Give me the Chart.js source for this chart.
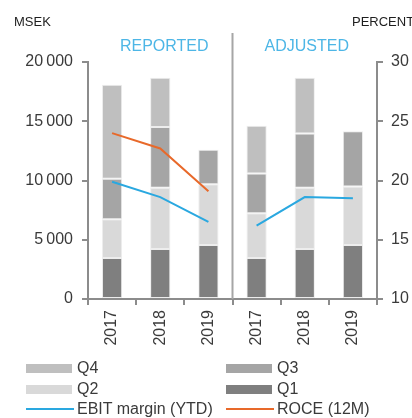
<!DOCTYPE html>
<html>
<head>
<meta charset="utf-8">
<script src="https://cdn.jsdelivr.net/npm/chart.js@4/dist/chart.umd.min.js"></script>
<style>
  html, body { margin: 0; padding: 0; background: #fff; }
  #wrap { position: relative; width: 412px; height: 418px; font-family: "Liberation Sans", Arial, sans-serif; }
  canvas { position: absolute; left: 0; top: 0; }
  .lg { position: absolute; font-size: 16px; color: #3a3a3a; line-height: 18px; white-space: nowrap; }
  .sw { position: absolute; }
</style>
</head>
<body>
<div id="wrap">
  <canvas id="c" width="412" height="418"></canvas>
  <div id="legend"></div>
</div>
<script>
const categories = ['2017', '2018', '2019', '2017', '2018', '2019'];
const groupTitles = ['REPORTED', 'ADJUSTED'];
const q1 = [3450, 4210, 4550, 3450, 4210, 4550];
const q2 = [3280, 5170, 5140, 3790, 5170, 4940];
const q3 = [3410, 5140, 2910, 3350, 4580, 4660];
const q4 = [7940, 4160, null, 4040, 4720, null];
const ebitMargin = [19.9, 18.6, 16.5, 16.2, 18.6, 18.5];
const roce = [24.0, 22.7, 19.1, null, null, null];
const leftTicks = [0, 5000, 10000, 15000, 20000];
const rightTicks = [10, 15, 20, 25, 30];

const C = { q1: '#7f7f7f', q2: '#d9d9d9', q3: '#a5a5a5', q4: '#bfbfbf', ebit: '#2aa8e0', roce: '#e8692a' };
const FONT = '"Liberation Sans", Arial, sans-serif';
const TXT = '#3a3a3a';
const fmt = v => { const s = String(Math.round(v)); return s.length > 3 ? s.slice(0, -3) + '\u2009' + s.slice(-3) : s; };

const overlay = {
  id: 'overlay',
  afterDraw(chart) {
    const ctx = chart.ctx, x = chart.scales.x, ca = chart.chartArea;
    ctx.save();
    const mid = (x.getPixelForValue(2) + x.getPixelForValue(3)) / 2;
    ctx.strokeStyle = '#a6a6a6'; ctx.lineWidth = 2;
    ctx.beginPath(); ctx.moveTo(mid, 33); ctx.lineTo(mid, ca.bottom); ctx.stroke();
    ctx.fillStyle = '#1e1e1e'; ctx.font = '13px ' + FONT; ctx.textBaseline = 'middle';
    ctx.textAlign = 'left'; ctx.fillText('MSEK', 14, 22);
    ctx.textAlign = 'left'; ctx.fillText('PERCENT', 352, 22);
    ctx.fillStyle = '#4db6e6'; ctx.font = '16px ' + FONT; ctx.textAlign = 'center';
    const c1 = (x.getPixelForValue(0) + x.getPixelForValue(2)) / 2 + 4;
    const c2 = (x.getPixelForValue(3) + x.getPixelForValue(5)) / 2 + 2;
    ctx.fillText(groupTitles[0], c1, 47);
    ctx.fillText(groupTitles[1], c2, 47);
    ctx.restore();
  }
};

const barDs = (label, data, color) => ({
  type: 'bar', label, data, backgroundColor: color, borderColor: 'rgba(235,235,235,0.9)', borderWidth: 1,
  borderSkipped: false, yAxisID: 'y', stack: 's', order: 2, barPercentage: 0.42, categoryPercentage: 1
});

const chart = new Chart(document.getElementById('c'), {
  data: {
    labels: categories,
    datasets: [
      barDs('Q1', q1, C.q1),
      barDs('Q2', q2, C.q2),
      barDs('Q3', q3, C.q3),
      barDs('Q4', q4, C.q4),
      { type: 'line', label: 'EBIT margin (YTD)', data: ebitMargin, borderColor: C.ebit, borderWidth: 2,
        pointRadius: 0, yAxisID: 'y1', order: 0, tension: 0,
        segment: { borderColor: c => c.p0DataIndex === 2 ? 'rgba(0,0,0,0)' : C.ebit } },
      { type: 'line', label: 'ROCE (12M)', data: roce, borderColor: C.roce, borderWidth: 2,
        pointRadius: 0, yAxisID: 'y1', order: 0, tension: 0, spanGaps: false }
    ]
  },
  options: {
    responsive: false, animation: false,
    layout: { padding: { top: 62, left: 0, right: 0, bottom: 0 } },
    plugins: { legend: { display: false }, tooltip: { enabled: false } },
    scales: {
      x: {
        stacked: true, offset: true,
        grid: { display: true, drawOnChartArea: false, drawTicks: true, tickLength: 6, color: '#8c8c8c', lineWidth: 2, offset: true },
        border: { display: true, color: '#8c8c8c', width: 2 },
        ticks: { minRotation: 90, maxRotation: 90, padding: 5, color: TXT, font: { family: FONT, size: 16 } },
        afterFit: s => { s.height = 119; }
      },
      y: {
        position: 'left', stacked: true, min: 0, max: 20000,
        afterBuildTicks: s => { s.ticks = leftTicks.map(v => ({ value: v })); },
        grid: { drawOnChartArea: false, drawTicks: true, tickLength: 6, color: '#8c8c8c', lineWidth: 2 },
        border: { display: true, color: '#8c8c8c', width: 2 },
        ticks: { padding: 9, color: TXT, font: { family: FONT, size: 16 }, callback: v => fmt(v) },
        afterFit: s => { s.width = 88; }
      },
      y1: {
        position: 'right', min: 10, max: 30,
        afterBuildTicks: s => { s.ticks = rightTicks.map(v => ({ value: v })); },
        grid: { drawOnChartArea: false, drawTicks: true, tickLength: 6, color: '#8c8c8c', lineWidth: 2 },
        border: { display: true, color: '#8c8c8c', width: 2 },
        ticks: { padding: 8, color: TXT, font: { family: FONT, size: 16 } },
        afterFit: s => { s.width = 35; }
      }
    }
  },
  plugins: [overlay]
});

// HTML legend built from datasets
const legendItems = [
  { ds: 3, col: 0, row: 0 }, { ds: 2, col: 1, row: 0 },
  { ds: 1, col: 0, row: 1 }, { ds: 0, col: 1, row: 1 },
  { ds: 4, col: 0, row: 2 }, { ds: 5, col: 1, row: 2 }
];
const lg = document.getElementById('legend');
const colX = [26, 226], rowY = [368, 389, 409];
legendItems.forEach(it => {
  const d = chart.data.datasets[it.ds];
  const isLine = d.type === 'line';
  const sw = document.createElement('div');
  sw.className = 'sw';
  sw.style.left = colX[it.col] + 'px';
  sw.style.width = (isLine ? 48 : 46) + 'px';
  sw.style.height = (isLine ? 2 : 9) + 'px';
  sw.style.top = (rowY[it.row] - (isLine ? 1 : 4.5)) + 'px';
  sw.style.background = isLine ? d.borderColor : d.backgroundColor;
  lg.appendChild(sw);
  const t = document.createElement('div');
  t.className = 'lg';
  t.style.left = (colX[it.col] + 51) + 'px';
  t.style.top = (rowY[it.row] - 9) + 'px';
  t.textContent = d.label;
  lg.appendChild(t);
});
</script>
</body>
</html>
